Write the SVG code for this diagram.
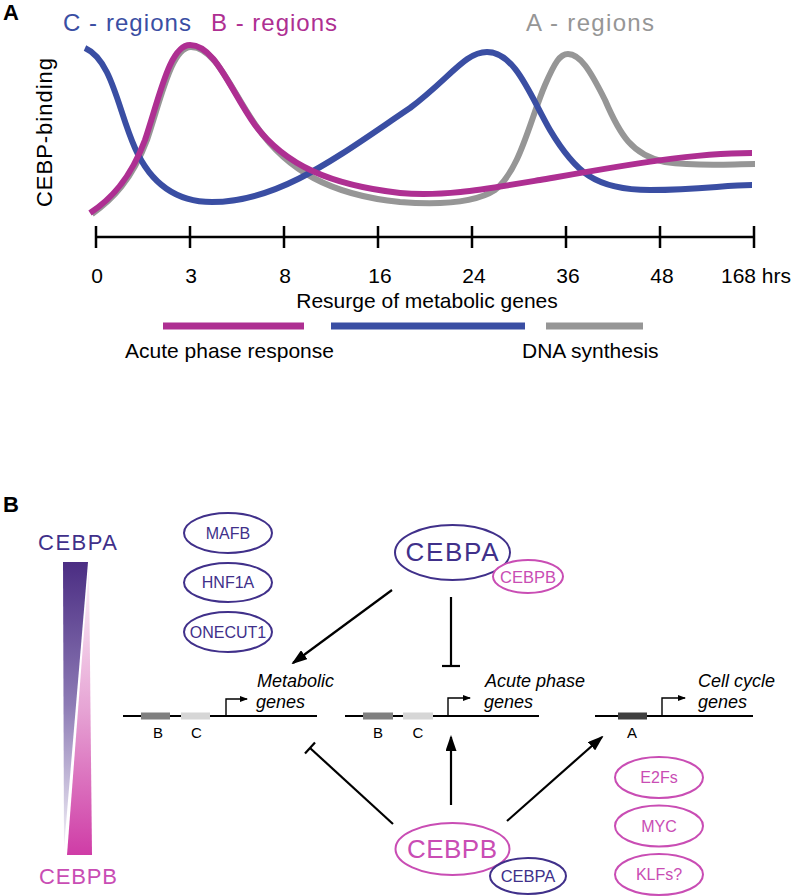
<svg xmlns="http://www.w3.org/2000/svg" width="791" height="896" viewBox="0 0 791 896">
<style>
text{font-family:"Liberation Sans",Arial,sans-serif}
.pl{font-weight:bold;font-size:22px;fill:#000}
.curve{fill:none;stroke-width:6;stroke-linecap:butt}
.ax{stroke:#000;stroke-width:2.5;fill:none}
.tk{font-size:21px;fill:#000;text-anchor:middle}
.conn{stroke:#000;stroke-width:2.2;fill:none}
.gl{stroke:#000;stroke-width:2.2;fill:none}
.pr{stroke:#000;stroke-width:1.4;fill:none}
.gt{font-size:18px;font-style:italic;fill:#000}
.rl{font-size:15px;fill:#000;text-anchor:middle}
.pa{fill:none;stroke:#40308a;stroke-width:2}
.pb{fill:none;stroke:#c94db4;stroke-width:2}
.ta{fill:#40308a;text-anchor:middle}
.tb{fill:#c94db4;text-anchor:middle}
</style>
<defs>
<marker id="ah" markerUnits="userSpaceOnUse" markerWidth="16" markerHeight="11" refX="14" refY="5.5" orient="auto"><path d="M0,0 L16,5.5 L0,11 z" fill="#000"/></marker>
<marker id="sh" markerUnits="userSpaceOnUse" markerWidth="8" markerHeight="6" refX="7" refY="3" orient="auto"><path d="M0,0 L8,3 L0,6 z" fill="#000"/></marker>
<linearGradient id="gA" x1="0" y1="0" x2="0" y2="1"><stop offset="0" stop-color="#4b2d83"/><stop offset="0.5" stop-color="#8d7bb5"/><stop offset="1" stop-color="#f4f2f8"/></linearGradient>
<linearGradient id="gB" x1="0" y1="0" x2="0" y2="1"><stop offset="0" stop-color="#fdf4fa"/><stop offset="0.5" stop-color="#e6a3d4"/><stop offset="1" stop-color="#cf3ca6"/></linearGradient>
</defs>

<!-- Panel A -->
<g id="panelA">
<text class="pl" x="3" y="20">A</text>
<text x="63" y="31" font-size="24" fill="#3a4ea3" textLength="128" lengthAdjust="spacing">C - regions</text>
<text x="211" y="31" font-size="24" fill="#ae2f92" textLength="126" lengthAdjust="spacing">B - regions</text>
<text x="526" y="31" font-size="24" fill="#969696" textLength="128" lengthAdjust="spacing">A - regions</text>
<text transform="translate(52,207) rotate(-90)" font-size="22" fill="#000" textLength="149" lengthAdjust="spacing">CEBP-binding</text>
<path class="curve" stroke="#969696" d="M92,214 C112,200 132,180 147,140 C162,95 172,47 191,47 C216,47 232,92 257,127 C287,170 330,195 400,202 C440,205 475,203 495,190 C520,170 530,120 545,85 C555,62 560,54 568,54 C580,54 590,70 605,100 C620,135 632,155 665,162 C700,167 730,164 755,164"/>
<path class="curve" stroke="#3a4ea3" d="M85,48 C112,60 118,110 135,148 C150,182 175,202 212,202 C280,202 340,155 410,108 C450,78 465,52 487,52 C515,52 530,95 550,130 C575,172 595,190 650,190 C700,190 725,185 752,185"/>
<path class="curve" stroke="#ae2f92" d="M90,213 C110,200 130,180 145,140 C160,95 170,45 190,45 C215,45 230,90 255,125 C285,165 330,185 400,193 C440,197 480,190 540,180 C620,166 690,153 752,153"/>
<line class="ax" x1="96" y1="237" x2="754" y2="237"/>
<path class="ax" d="M96,226V248M190,226V248M284,226V248M378,226V248M472,226V248M566,226V248M660,226V248M754,226V248"/>
<text class="tk" x="97" y="283">0</text>
<text class="tk" x="191" y="283">3</text>
<text class="tk" x="285" y="283">8</text>
<text class="tk" x="380" y="283">16</text>
<text class="tk" x="474" y="283">24</text>
<text class="tk" x="568" y="283">36</text>
<text class="tk" x="662" y="283">48</text>
<text x="721" y="283" font-size="21" fill="#000">168 hrs</text>
<text x="427" y="308" font-size="21" fill="#000" text-anchor="middle">Resurge of metabolic genes</text>
<line x1="163" y1="326" x2="304" y2="326" stroke="#ae2f92" stroke-width="7"/>
<line x1="331" y1="326" x2="525" y2="326" stroke="#3a4ea3" stroke-width="7"/>
<line x1="546" y1="326" x2="643" y2="326" stroke="#969696" stroke-width="7"/>
<text x="125" y="358" font-size="21" fill="#000">Acute phase response</text>
<text x="522" y="358" font-size="21" fill="#000">DNA synthesis</text>
</g>

<!-- Panel B -->
<text class="pl" x="3" y="512">B</text>

<g id="gradient-bar">
<text x="38" y="550" font-size="22" fill="#40308a" textLength="79" lengthAdjust="spacing">CEBPA</text>
<polygon points="63,562 88,562 64,848" fill="url(#gA)"/>
<polygon points="89,566 92,855 67,855" fill="url(#gB)"/>
<text x="39" y="884" font-size="22" fill="#c94db4" textLength="78" lengthAdjust="spacing">CEBPB</text>
</g>

<g id="MAFB"><ellipse class="pa" cx="228" cy="533" rx="44" ry="20"/><text class="ta" x="228" y="539" font-size="16">MAFB</text></g>
<g id="HNF1A"><ellipse class="pa" cx="228" cy="582.5" rx="44" ry="19.5"/><text class="ta" x="228" y="588" font-size="16">HNF1A</text></g>
<g id="ONECUT1"><ellipse class="pa" cx="228" cy="632" rx="44" ry="20"/><text class="ta" x="228" y="638" font-size="16">ONECUT1</text></g>

<g id="CEBPA-top">
<ellipse class="pa" cx="452.5" cy="552.5" rx="57.5" ry="27.5"/>
<text class="ta" x="452" y="561" font-size="26" textLength="93" lengthAdjust="spacing">CEBPA</text>
<ellipse cx="528" cy="576.5" rx="35" ry="16.5" fill="#fff" stroke="#c94db4" stroke-width="2"/>
<text class="tb" x="528" y="582.5" font-size="16.5">CEBPB</text>
</g>

<g id="metabolic-genes">
<line class="gl" x1="123" y1="716" x2="317" y2="716"/>
<rect x="141" y="712.5" width="29" height="7" fill="#808080"/>
<rect x="181" y="712.5" width="29" height="7" fill="#d6d6d6"/>
<path class="pr" d="M226,716V699H247" marker-end="url(#sh)"/>
<text class="rl" x="158" y="738">B</text>
<text class="rl" x="196.5" y="738">C</text>
<text class="gt" x="257" y="687">Metabolic</text>
<text class="gt" x="256" y="708">genes</text>
</g>

<g id="acute-phase-genes">
<line class="gl" x1="345" y1="716" x2="539" y2="716"/>
<rect x="363" y="712.5" width="30" height="7" fill="#808080"/>
<rect x="403" y="712.5" width="30" height="7" fill="#d6d6d6"/>
<path class="pr" d="M448,716V698H470" marker-end="url(#sh)"/>
<text class="rl" x="378" y="738">B</text>
<text class="rl" x="418" y="738">C</text>
<text class="gt" x="485" y="687">Acute phase</text>
<text class="gt" x="484" y="708">genes</text>
</g>

<g id="cell-cycle-genes">
<line class="gl" x1="595" y1="716" x2="753" y2="716"/>
<rect x="618" y="712.5" width="29" height="7" fill="#404040"/>
<path class="pr" d="M662,716V698H685" marker-end="url(#sh)"/>
<text class="rl" x="632" y="738">A</text>
<text class="gt" x="698" y="687">Cell cycle</text>
<text class="gt" x="698" y="708">genes</text>
</g>

<g id="CEBPB-bottom">
<ellipse class="pb" cx="452.5" cy="849" rx="57" ry="26"/>
<text class="tb" x="452" y="858" font-size="26" textLength="90" lengthAdjust="spacing">CEBPB</text>
<ellipse cx="528" cy="876" rx="38" ry="18" fill="#fff" stroke="#40308a" stroke-width="2"/>
<text class="ta" x="528" y="882" font-size="16.5">CEBPA</text>
</g>

<g id="E2Fs"><ellipse class="pb" cx="659" cy="777.5" rx="44" ry="20.5"/><text class="tb" x="659" y="783" font-size="16">E2Fs</text></g>
<g id="MYC"><ellipse class="pb" cx="659" cy="826" rx="44" ry="20.5"/><text class="tb" x="659" y="832" font-size="16">MYC</text></g>
<g id="KLFs"><ellipse class="pb" cx="659" cy="874.5" rx="44" ry="20.5"/><text class="tb" x="659" y="880" font-size="16">KLFs?</text></g>

<g id="connectors">
<line class="conn" x1="392" y1="590" x2="293" y2="663" marker-end="url(#ah)"/>
<line class="conn" x1="451" y1="597" x2="451" y2="666"/>
<line class="conn" x1="442" y1="666" x2="460" y2="666"/>
<line class="conn" x1="393" y1="824" x2="310" y2="748"/>
<line class="conn" x1="305" y1="753.5" x2="315" y2="742.5"/>
<line class="conn" x1="451" y1="805" x2="451" y2="737" marker-end="url(#ah)"/>
<line class="conn" x1="507" y1="821" x2="602" y2="737" marker-end="url(#ah)"/>
</g>
</svg>
